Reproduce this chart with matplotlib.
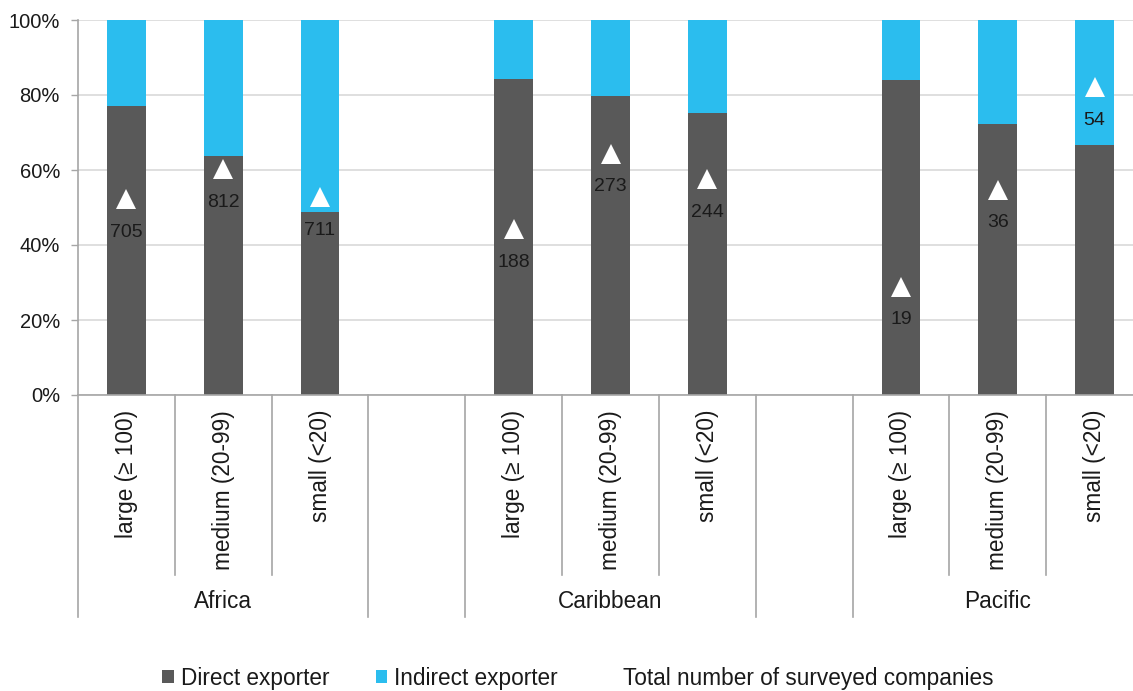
import matplotlib
matplotlib.use("Agg")
import matplotlib.pyplot as plt
import matplotlib.transforms as mtransforms
from matplotlib.patches import Patch
from matplotlib.lines import Line2D
import numpy as np

plt.rcParams['font.family'] = ['Liberation Sans', 'DejaVu Sans']

regions = ["Africa", "Caribbean", "Pacific"]
sizes = ["large (\u2265 100)", "medium (20-99)", "small (<20)"]

# share of direct exporters per size class (%), indirect is the rest
direct_share = [
    [77.1, 63.7, 48.9],
    [84.4, 79.8, 75.2],
    [84.1, 72.3, 66.7],
]
# number of surveyed companies per size class
total_companies = [
    [705, 812, 711],
    [188, 273, 244],
    [19, 36, 54],
]
# full-height value of the company count scale in each region
count_scale = [1348, 424, 65.7]

DARK = "#595959"
BLUE = "#2BBDEE"
GRID = "#d9d9d9"
AXIS = "#a6a6a6"
TXT = "#1a1a1a"

fig = plt.figure(figsize=(11.33, 6.91), dpi=100)
ax = fig.add_axes([78 / 1133, 1 - 395 / 691, 1065 / 1133, 375 / 691])

# three bars per region, one empty slot between regions
positions = []
for r in range(len(regions)):
    for s in range(len(sizes)):
        positions.append(r * 4 + s)
positions = np.array(positions)

direct = np.array(direct_share).ravel()
indirect = 100 - direct
counts = np.array(total_companies).ravel()
marker_y = np.array([c / count_scale[i // 3] * 100 for i, c in enumerate(counts)])

ax.bar(positions, direct, width=0.4, color=DARK, zorder=2)
ax.bar(positions, indirect, width=0.4, bottom=direct, color=BLUE, zorder=2)
ax.plot(positions, marker_y, linestyle='none', marker='^', markersize=14.5,
        markerfacecolor='white', markeredgewidth=0, zorder=3)
for x, y, c in zip(positions, marker_y, counts):
    ax.annotate(str(c), (x, y), xytext=(0, -24), textcoords='offset points',
                ha='center', va='center', fontsize=14, color=TXT, zorder=4)

ax.set_xlim(-0.5, 10.5)
ax.set_ylim(0, 100)
ax.set_yticks(np.arange(0, 101, 20))
ax.set_yticklabels([f"{v}%" for v in range(0, 101, 20)])
ax.yaxis.grid(True, color=GRID, linewidth=1.2, zorder=0)
ax.set_axisbelow(True)
ax.tick_params(axis='y', length=5, width=1, color=AXIS, pad=8, labelsize=14.5, labelcolor=TXT)
ax.tick_params(axis='x', length=0, labelbottom=False)
for side in ['top', 'right']:
    ax.spines[side].set_visible(False)
ax.spines['left'].set_color(AXIS)
ax.spines['bottom'].set_color(AXIS)
ax.spines['left'].set_linewidth(1.2)
ax.spines['bottom'].set_linewidth(1.2)

# multi-level category axis below the plot
trans = mtransforms.blended_transform_factory(ax.transData, ax.transAxes)
short_y = (395 - 575) / 375
long_y = (395 - 617) / 375
for b in np.arange(-0.5, 11, 1.0):
    rel = (b + 0.5) % 4
    low = long_y if rel in (0, 3) else short_y
    ax.plot([b, b], [0, low], transform=trans, color=AXIS, linewidth=1.2, clip_on=False)

for x, i in zip(positions, range(len(positions))):
    ax.text(x, -15 / 375, sizes[i % 3], transform=trans, rotation=90,
            ha='center', va='top', fontsize=16.3, color=TXT)
for r, name in enumerate(regions):
    ax.text(r * 4 + 1, (395 - 602) / 375, name, transform=trans,
            ha='center', va='center', fontsize=16.3, color=TXT)

handles = [
    Patch(facecolor=DARK, edgecolor='none'),
    Patch(facecolor=BLUE, edgecolor='none'),
    Line2D([], [], linestyle='none', marker='^', markerfacecolor='white',
           markeredgewidth=0, markersize=10),
]
labels = ["Direct exporter", "Indirect exporter", "Total number of surveyed companies"]
fig.legend(handles, labels, loc='center', bbox_to_anchor=(578 / 1133, 1 - 678 / 691),
           ncol=3, frameon=False, fontsize=16.3, handlelength=0.5, handleheight=0.5,
           handletextpad=0.3, columnspacing=2.08, labelcolor=TXT)

fig.savefig("out.png", dpi=100)
